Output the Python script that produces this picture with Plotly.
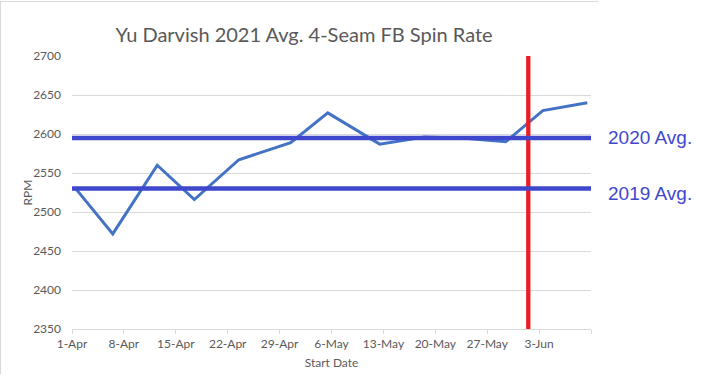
import plotly.graph_objects as go
import pandas as pd

# ---- data ----
start_dates = ["2021-04-01", "2021-04-06", "2021-04-12", "2021-04-17", "2021-04-23",
               "2021-04-30", "2021-05-05", "2021-05-12", "2021-05-18", "2021-05-23",
               "2021-05-29", "2021-06-03", "2021-06-09"]
spin_rpm = [2530, 2472, 2560, 2516, 2567, 2589, 2627, 2587, 2596, 2595, 2590, 2630, 2640]

avg_2020 = 2595
avg_2019 = 2530
cutoff_time = "2021-06-01 13:00"

tick_dates = ["2021-04-01", "2021-04-08", "2021-04-15", "2021-04-22", "2021-04-29",
              "2021-05-06", "2021-05-13", "2021-05-20", "2021-05-27", "2021-06-03", "2021-06-10"]
tick_labels = ["1-Apr", "8-Apr", "15-Apr", "22-Apr", "29-Apr",
               "6-May", "13-May", "20-May", "27-May", "3-Jun", ""]

axis_start = "2021-04-01"
axis_end = "2021-06-10"
y_min, y_max = 2350, 2700

# Excel date axis: each day is a slot, points sit mid-slot
x_pts = [pd.Timestamp(d) + pd.Timedelta(hours=12) for d in start_dates]

GREY = "#595959"
GRID = "#D9D9D9"

fig = go.Figure()
fig.add_trace(go.Scatter(x=x_pts, y=spin_rpm, mode="lines",
                         line=dict(color="#4472C4", width=3), hoverinfo="skip"))
fig.add_trace(go.Scatter(x=[cutoff_time, cutoff_time], y=[y_min, y_max], mode="lines",
                         line=dict(color="#ED1C24", width=4.3), hoverinfo="skip"))
for v in (avg_2020, avg_2019):
    fig.add_trace(go.Scatter(x=[axis_start, pd.Timestamp(axis_end) + pd.Timedelta(hours=9)],
                             y=[v, v], mode="lines", cliponaxis=False,
                             line=dict(color="#3F48CC", width=4.5), hoverinfo="skip"))

fig.update_layout(
    width=701, height=380,
    margin=dict(l=72, r=110, t=56, b=46),
    paper_bgcolor="white", plot_bgcolor="white",
    showlegend=False,
    title=dict(text="Yu Darvish 2021 Avg. 4-Seam FB Spin Rate",
               font=dict(family="Lato", size=20, color=GREY),
               x=304 / 701, xref="container", xanchor="center",
               y=1 - 35 / 380, yref="container", yanchor="middle"),
    font=dict(family="Lato", size=12, color=GREY),
)
fig.update_xaxes(
    type="date", range=[axis_start, axis_end],
    tickvals=tick_dates, ticktext=tick_labels,
    showgrid=False, showline=True, linecolor=GRID, linewidth=1,
    ticks="outside", ticklen=4, tickcolor=GRID,
    tickfont=dict(family="Lato", size=12, color=GREY),
    title=dict(text="Start Date", font=dict(family="Lato", size=12, color=GREY), standoff=8),
    zeroline=False, fixedrange=True,
)
fig.update_yaxes(
    range=[y_min, y_max], dtick=50, tick0=2350,
    showgrid=True, gridcolor=GRID, gridwidth=1,
    showline=False, zeroline=False, ticks="",
    ticklabelstandoff=10,
    tickfont=dict(family="Lato", size=12, color=GREY),
    fixedrange=True,
)

# y-axis title placed like the original
fig.add_annotation(text="RPM", textangle=-90, xref="paper", x=(27 - 72) / 519, xanchor="center",
                   yref="paper", y=0.5, yanchor="middle", showarrow=False,
                   font=dict(family="Lato", size=12, color=GREY))

for txt, v, shift in (("2020 Avg.", avg_2020, 0), ("2019 Avg.", avg_2019, -5)):
    fig.add_annotation(text=txt, xref="paper", x=(606 - 72) / 519, xanchor="left",
                       yref="y", y=v, yanchor="middle", yshift=shift, showarrow=False,
                       font=dict(family="Liberation Sans", size=19, color="#3F48CC"))

# chart frame (top and left borders)
fig.add_shape(type="line", xref="paper", yref="paper",
              x0=-72 / 519, x1=(598 - 72) / 519, y0=1 + 55.5 / 278, y1=1 + 55.5 / 278,
              line=dict(color=GRID, width=1))
fig.add_shape(type="line", xref="paper", yref="paper",
              x0=-71.5 / 519, x1=-71.5 / 519, y0=-46 / 278, y1=1 + 56 / 278,
              line=dict(color=GRID, width=1))

fig.write_html("out.html", config={"displayModeBar": False},
               post_script="document.body.style.margin='0';document.body.style.overflow='hidden';")
